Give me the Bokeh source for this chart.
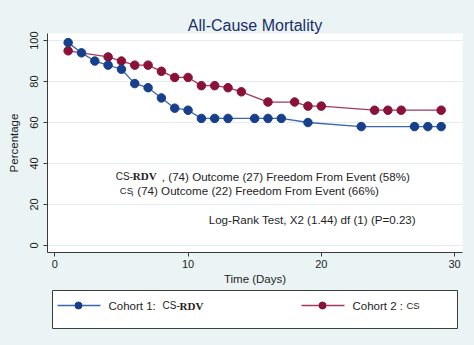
import numpy as np
from bokeh.plotting import figure
from bokeh.layouts import column
from bokeh.models import FixedTicker, Range1d
from bokeh.core.properties import value
from bokeh.embed import file_html
from bokeh.resources import INLINE

# ---- data ----
days_cs_rdv = [1, 2, 3, 4, 5, 6, 7, 8, 9, 10, 11, 12, 13, 15, 16, 17, 19, 23, 27, 28, 29]
pct_cs_rdv = [99, 94, 90, 88, 86, 79, 77, 72, 67, 66, 62, 62, 62, 62, 62, 62, 60, 58, 58, 58, 58]

days_cs = [1, 4, 5, 6, 7, 8, 9, 10, 11, 12, 13, 14, 16, 18, 19, 20, 24, 25, 26, 29]
pct_cs = [95, 92, 90, 88, 88, 85, 82, 82, 78, 78, 77, 75, 70, 70, 68, 68, 66, 66, 66, 66]

x_ticks = [0, 10, 20, 30]
y_ticks = [0, 20, 40, 60, 80, 100]

title_text = "All-Cause Mortality"
x_label = "Time (Days)"
y_label = "Percentage"
legend_labels = ["Cohort 1:", "Cohort 2 :"]

BG = "#eaf4f4"
BLUE_M = "#173f8c"
BLUE_L = "#3a66aa"
RED_M = "#8a1238"
RED_L = "#a23a5a"
TXT = "#1e1e1e"
SANS = "Liberation Sans"
SERIF = "Liberation Serif"

p = figure(width=474, height=287, output_backend="svg", toolbar_location=None,
           x_range=Range1d(-0.55, 30.6), y_range=Range1d(-3.45, 103.45),
           min_border_left=47, min_border_right=12, min_border_top=33,
           min_border_bottom=35)
p.background_fill_color = "white"
p.border_fill_color = BG
p.outline_line_color = None

p.title.text = title_text
p.title.align = "center"
p.title.text_font = SANS
p.title.text_font_size = "16px"
p.title.text_font_style = "normal"
p.title.text_color = "#1c2d6b"
p.title.standoff = 0

for ax in (p.xaxis[0], p.yaxis[0]):
    ax.axis_line_color = "#3a3a3a"
    ax.major_tick_line_color = "#3a3a3a"
    ax.major_tick_out = 4
    ax.major_tick_in = 0
    ax.minor_tick_line_color = None
    ax.major_label_text_font = SANS
    ax.major_label_text_font_size = "11px"
    ax.major_label_text_color = TXT
    ax.axis_label_text_font = SANS
    ax.axis_label_text_font_size = "11.5px"
    ax.axis_label_text_font_style = "normal"
    ax.axis_label_text_color = TXT

p.xaxis.major_label_standoff = 3
p.yaxis.major_label_standoff = 5
p.xaxis.ticker = FixedTicker(ticks=x_ticks)
p.yaxis.ticker = FixedTicker(ticks=y_ticks)
p.xaxis.axis_label = x_label
p.yaxis.axis_label = y_label
p.xaxis.axis_label_standoff = 2
p.yaxis.axis_label_standoff = 8
p.yaxis.major_label_orientation = "vertical"

p.xgrid.grid_line_color = None
p.ygrid.grid_line_color = "#e4ecee"
p.ygrid.grid_line_width = 1

# series
p.line(days_cs, pct_cs, line_color=RED_L, line_width=1.3)
p.scatter(days_cs, pct_cs, size=8.5, fill_color=RED_M, line_color=RED_M)
p.line(days_cs_rdv, pct_cs_rdv, line_color=BLUE_L, line_width=1.3)
p.scatter(days_cs_rdv, pct_cs_rdv, size=8.5, fill_color=BLUE_M, line_color=BLUE_M)

# annotation texts (mixed fonts placed in sequence)
def seg(x, y, txt, dx, font, size, style="normal"):
    p.text(x=[x], y=[y], text=[txt], x_offset=dx, text_font=value(font),
           text_font_size=size, text_font_style=style, text_color=TXT,
           text_baseline="middle", text_align="left")

seg(4.58, 33.7, "CS-", 0, SANS, "10px")
seg(4.58, 33.7, "RDV", 17, SERIF, "11px", "bold")
seg(4.58, 33.7, ", (74) Outcome (27) Freedom From Event (58%)", 46, SANS, "11.6px")
seg(4.88, 26.7, "CS", 0, SANS, "9.5px")
seg(4.88, 26.7, ", (74) Outcome (22) Freedom From Event (66%)", 11, SANS, "11.6px")
seg(11.55, 12.9, "Log-Rank Test, X2 (1.44) df (1) (P=0.23)", 0, SANS, "11.6px")

# ---- legend panel (frame spans page x 47..462, coordinates in page px) ----
lg = figure(width=474, height=58, output_backend="svg", toolbar_location=None,
            x_range=Range1d(47, 462), y_range=Range1d(58, 0),
            min_border_left=47, min_border_right=12,
            min_border_top=0, min_border_bottom=0)
lg.axis.visible = False
lg.grid.visible = False
lg.outline_line_color = None
lg.background_fill_color = BG
lg.border_fill_color = BG

lg.quad(left=[52], right=[457], top=[3], bottom=[41], fill_color="white",
        line_color="#3c3c3c", line_width=1)
cy = 18
lg.line([57, 100], [cy, cy], line_color=BLUE_L, line_width=1.3)
lg.scatter([78], [cy], size=7, fill_color=BLUE_M, line_color=BLUE_M)
lg.line([301, 344], [cy, cy], line_color=RED_L, line_width=1.3)
lg.scatter([322], [cy], size=7, fill_color=RED_M, line_color=RED_M)

def lseg(x, txt, font, size, style="normal"):
    lg.text(x=[x], y=[cy], text=[txt], text_font=value(font), text_font_size=size,
            text_font_style=style, text_color=TXT, text_baseline="middle",
            text_align="left")

lseg(108, legend_labels[0], SANS, "11.5px")
lseg(162, "CS-", SANS, "10px")
lseg(179, "RDV", SERIF, "11px", "bold")
lseg(352, legend_labels[1], SANS, "11.5px")
lseg(406, "CS", SANS, "9.5px")

layout = column(p, lg, spacing=0, styles={"background-color": BG})
open("out.html", "w").write(file_html(layout, INLINE))
